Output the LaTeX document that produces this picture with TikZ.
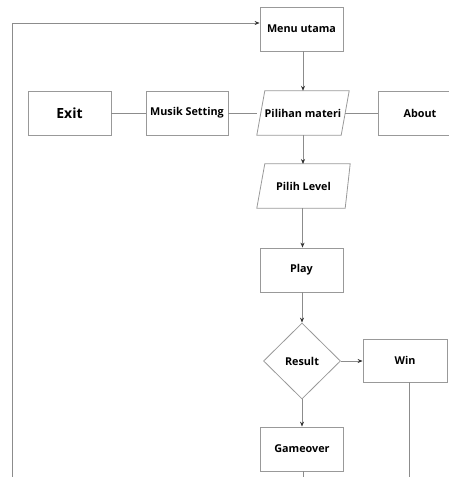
\documentclass[tikz,border=0pt]{standalone}
\usepackage{fontspec}
\setmainfont{Open Sans}
\usetikzlibrary{shapes.geometric,arrows.meta}
\begin{document}
\begin{tikzpicture}[x=1pt,y=-1pt,
  txt/.style={font=\bfseries\fontsize{10.8}{13}\selectfont,text=black},
  box/.style={txt,draw=black!40,line width=0.8pt,minimum width=83pt,minimum height=44pt,inner sep=0pt},
  para/.style={txt,minimum width=92pt,minimum height=44pt,inner sep=0pt},
  paraline/.style={draw=black!40,line width=0.8pt},
  dia/.style={txt,diamond,aspect=1,draw=black!40,line width=0.8pt,minimum width=77pt,minimum height=76pt,inner sep=0pt},
  conn/.style={draw=black!45,line width=0.7pt},
  arr/.style={conn,-{Stealth[length=5pt,width=4pt,color=black!80]}}]
\useasboundingbox (0,0) rectangle (449,477);
\clip (0,0) rectangle (449,477);
\node[box] (menu) at (301.5,29) {Menu utama};
\node[box,font=\bfseries\fontsize{14}{16}\selectfont] (exit) at (69.5,113) {Exit};
\node[box,minimum width=82pt] (musik) at (187,113) {Musik Setting};
\node[para] (pilihan) at (303,113) {Pilihan materi};
\draw[paraline] ([xshift=8pt]pilihan.north west) -- (pilihan.north east) -- ([xshift=-8pt]pilihan.south east) -- (pilihan.south west) -- cycle;
\node[box,minimum width=84pt] (about) at (420,113) {About};
\node[para,minimum width=93pt] (level) at (303.5,186) {Pilih Level};
\draw[paraline] ([xshift=8pt]level.north west) -- (level.north east) -- ([xshift=-5pt]level.south east) -- (level.south west) -- cycle;
\node[box] (play) at (301.5,270) {Play};
\node[dia] (result) at (302,361) {Result};
\node[box,minimum width=84pt,minimum height=43pt] (win) at (405,360.5) {Win};
\node[box] (gameover) at (302,449) {Gameover};
\coordinate (lb) at (12,477);
\coordinate (lt) at (12,23);
\coordinate (gb) at (303,477);
\coordinate (wb) at (409,477);
\draw[arr] (lb) -- (lt) -- (menu.west |- lt);
\draw[arr] (menu.south -| 303,0) -- (pilihan.north);
\draw[conn] (exit) -- (musik);
\draw[conn] (musik) -- (pilihan.west);
\draw[conn] ([xshift=-4pt]pilihan.east) -- (about);
\draw[arr] (pilihan.south) -- (303,164);
\draw[arr] (302.5,208) -- (play.north -| 302.5,0);
\draw[arr] (play.south -| result.north) -- (result.north);
\draw[arr] (result.east) -- (result.east -| win.west);
\draw[arr] (result.south) -- (gameover.north);
\draw[conn] (gameover.south -| gb) -- (gb);
\draw[conn] (win.south -| wb) -- (wb);
\end{tikzpicture}
\end{document}
